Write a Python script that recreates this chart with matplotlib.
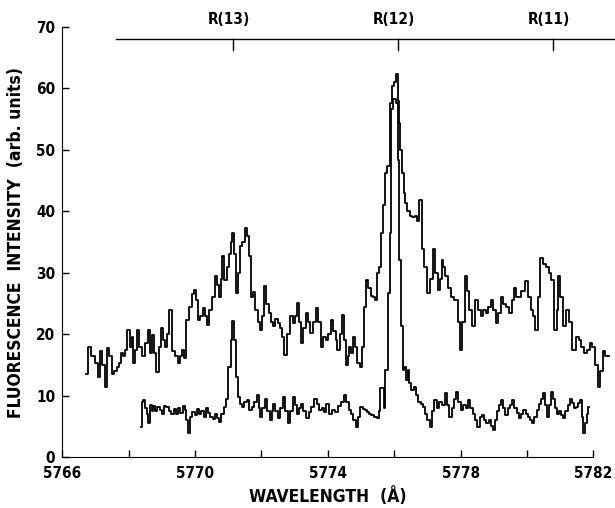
import matplotlib
matplotlib.use('Agg')
import matplotlib.pyplot as plt

plt.rcParams['font.family'] = ['DejaVu Sans']
plt.rcParams['font.weight'] = 'bold'
plt.rcParams['font.stretch'] = 'condensed'

# upper spectrum (wavelength in A, intensity)
upper_x = [5766.73, 5766.83, 5766.93, 5767.03, 5767.11, 5767.18, 5767.25, 5767.31, 5767.38, 5767.46,
           5767.53, 5767.60, 5767.68, 5767.74, 5767.80, 5767.87, 5767.92, 5768.00, 5768.07, 5768.12,
           5768.15, 5768.21, 5768.27, 5768.37, 5768.47, 5768.55, 5768.60, 5768.67, 5768.75, 5768.81,
           5768.87, 5768.94, 5769.00, 5769.07, 5769.13, 5769.20, 5769.26, 5769.33, 5769.45, 5769.51,
           5769.57, 5769.63, 5769.70, 5769.79, 5769.87, 5769.93, 5769.99, 5770.06, 5770.13, 5770.20,
           5770.26, 5770.33, 5770.39, 5770.47, 5770.55, 5770.63, 5770.69, 5770.75, 5770.80, 5770.85,
           5770.92, 5770.98, 5771.05, 5771.10, 5771.15, 5771.21, 5771.28, 5771.34, 5771.40, 5771.46,
           5771.53, 5771.59, 5771.65, 5771.71, 5771.79, 5771.85, 5771.92, 5771.99, 5772.05, 5772.11,
           5772.18, 5772.25, 5772.32, 5772.39, 5772.46, 5772.53, 5772.58, 5772.64, 5772.74, 5772.81,
           5772.89, 5772.99, 5773.05, 5773.10, 5773.16, 5773.23, 5773.30, 5773.38, 5773.44, 5773.50,
           5773.59, 5773.68, 5773.75, 5773.83, 5773.90, 5773.98, 5774.05, 5774.13, 5774.21, 5774.26,
           5774.32, 5774.40, 5774.47, 5774.52, 5774.57, 5774.62, 5774.67, 5774.72, 5774.77, 5774.84,
           5774.92, 5775.00, 5775.06, 5775.12, 5775.19, 5775.26, 5775.32, 5775.38, 5775.44, 5775.51,
           5775.59, 5775.64, 5775.69, 5775.74, 5775.83, 5775.89, 5775.96, 5776.02, 5776.08, 5776.12,
           5776.16, 5776.21, 5776.26, 5776.31, 5776.36, 5776.43, 5776.50, 5776.58, 5776.65, 5776.72,
           5776.80, 5776.87, 5776.95, 5777.05, 5777.12, 5777.20, 5777.27, 5777.34, 5777.40, 5777.45,
           5777.51, 5777.57, 5777.66, 5777.75, 5777.87, 5777.95, 5778.02, 5778.09, 5778.16, 5778.22,
           5778.29, 5778.39, 5778.49, 5778.56, 5778.64, 5778.72, 5778.80, 5778.87, 5778.94, 5779.02,
           5779.09, 5779.17, 5779.26, 5779.32, 5779.40, 5779.51, 5779.57, 5779.63, 5779.70, 5779.78,
           5779.88, 5779.98, 5780.06, 5780.15, 5780.22, 5780.28, 5780.35, 5780.43, 5780.52, 5780.62,
           5780.70, 5780.77, 5780.87, 5780.92, 5780.97, 5781.04, 5781.12, 5781.22, 5781.30, 5781.42,
           5781.52, 5781.58, 5781.66, 5781.76, 5781.85, 5781.93, 5782.01, 5782.09, 5782.16, 5782.24,
           5782.31, 5782.40, 5782.46]
upper_y = [13.6, 18.0, 16.4, 15.3, 13.1, 17.2, 15.0, 11.5, 17.7, 16.4,
           13.6, 14.0, 14.7, 15.3, 16.9, 16.4, 17.5, 20.7, 18.0, 19.6,
           15.3, 17.5, 20.7, 18.0, 16.4, 18.5, 20.7, 16.9, 19.8, 17.0,
           13.9, 18.0, 21.0, 19.0, 18.0, 20.0, 24.0, 17.2, 16.4, 15.3,
           16.5, 17.5, 16.1, 22.3, 24.5, 26.5, 27.2, 25.6, 22.3, 23.0,
           24.2, 23.0, 21.5, 24.0, 26.1, 29.4, 28.0, 26.0, 29.0, 32.7,
           28.8, 31.0, 33.0, 35.0, 36.5, 33.0, 26.7, 30.0, 34.3, 35.0,
           37.3, 36.0, 32.7, 26.1, 26.8, 24.0, 22.0, 20.7, 23.0, 27.8,
           25.0, 23.4, 22.0, 21.3, 22.5, 21.8, 21.0, 19.6, 16.6, 20.0,
           22.9, 21.8, 23.0, 25.1, 22.0, 18.5, 21.0, 23.4, 22.0, 20.2,
           22.0, 24.3, 22.0, 18.0, 19.5, 19.0, 20.0, 22.3, 20.5, 19.0,
           17.5, 20.0, 23.2, 19.0, 15.0, 16.5, 18.0, 17.0, 19.6, 18.0,
           15.3, 14.7, 18.0, 24.5, 28.9, 27.5, 26.3, 26.0, 25.6, 30.0,
           31.0, 36.5, 41.0, 46.3, 47.3, 57.7, 60.4, 61.0, 62.3, 58.0,
           54.4, 50.0, 46.3, 43.0, 41.4, 40.0, 39.3, 39.0, 39.2, 38.5,
           41.9, 33.8, 31.0, 26.7, 29.0, 33.8, 30.0, 27.2, 29.0, 32.1,
           31.0, 29.4, 27.5, 26.1, 25.6, 22.0, 17.5, 22.0, 29.4, 27.0,
           24.0, 21.3, 25.6, 24.0, 22.9, 24.0, 23.5, 24.5, 25.6, 24.0,
           21.8, 23.5, 26.1, 25.0, 24.5, 23.4, 25.5, 27.5, 26.0, 26.1,
           27.0, 28.6, 26.0, 24.0, 23.0, 20.7, 26.0, 32.4, 31.5, 31.0,
           30.0, 28.8, 20.7, 24.0, 29.4, 26.0, 21.3, 24.0, 22.0, 17.5,
           19.6, 19.0, 18.0, 16.9, 17.5, 18.5, 18.0, 15.0, 11.5, 14.0,
           17.2, 16.5, 16.4]

# lower spectrum
lower_x = [5768.37, 5768.42, 5768.47, 5768.52, 5768.57, 5768.62, 5768.68, 5768.72, 5768.77, 5768.84,
           5768.90, 5768.97, 5769.03, 5769.10, 5769.17, 5769.25, 5769.32, 5769.40, 5769.46, 5769.52,
           5769.60, 5769.67, 5769.72, 5769.77, 5769.81, 5769.88, 5769.96, 5770.03, 5770.10, 5770.16,
           5770.23, 5770.29, 5770.35, 5770.42, 5770.50, 5770.57, 5770.63, 5770.69, 5770.75, 5770.82,
           5770.90, 5770.97, 5771.05, 5771.10, 5771.15, 5771.22, 5771.27, 5771.32, 5771.38, 5771.45,
           5771.52, 5771.60, 5771.68, 5771.75, 5771.82, 5771.89, 5771.94, 5771.99, 5772.06, 5772.14,
           5772.21, 5772.29, 5772.34, 5772.39, 5772.46, 5772.54, 5772.61, 5772.69, 5772.76, 5772.84,
           5772.91, 5772.99, 5773.05, 5773.11, 5773.16, 5773.21, 5773.29, 5773.39, 5773.46, 5773.54,
           5773.64, 5773.71, 5773.79, 5773.86, 5773.93, 5773.99, 5774.09, 5774.18, 5774.27, 5774.35,
           5774.44, 5774.52, 5774.60, 5774.67, 5774.74, 5774.80, 5774.87, 5774.94, 5775.02, 5775.08,
           5775.15, 5775.21, 5775.27, 5775.35, 5775.43, 5775.51, 5775.56, 5775.61, 5775.66, 5775.71,
           5775.76, 5775.84, 5775.88, 5775.94, 5776.00, 5776.08, 5776.13, 5776.18, 5776.24, 5776.28,
           5776.33, 5776.38, 5776.43, 5776.49, 5776.55, 5776.62, 5776.70, 5776.76, 5776.83, 5776.90,
           5776.97, 5777.03, 5777.10, 5777.17, 5777.25, 5777.32, 5777.40, 5777.48, 5777.55, 5777.62,
           5777.70, 5777.76, 5777.83, 5777.90, 5777.97, 5778.05, 5778.12, 5778.19, 5778.25, 5778.32,
           5778.40, 5778.47, 5778.54, 5778.62, 5778.68, 5778.74, 5778.81, 5778.87, 5778.93, 5778.99,
           5779.06, 5779.13, 5779.18, 5779.23, 5779.30, 5779.38, 5779.45, 5779.52, 5779.58, 5779.65,
           5779.72, 5779.78, 5779.85, 5779.93, 5779.99, 5780.06, 5780.12, 5780.18, 5780.25, 5780.32,
           5780.38, 5780.45, 5780.52, 5780.57, 5780.62, 5780.68, 5780.75, 5780.80, 5780.86, 5780.92,
           5780.99, 5781.05, 5781.12, 5781.19, 5781.25, 5781.32, 5781.38, 5781.45, 5781.52, 5781.57,
           5781.62, 5781.67, 5781.71, 5781.77, 5781.82, 5781.86]
lower_y = [4.9, 9.0, 9.3, 8.0, 7.0, 5.5, 8.5, 7.5, 8.4, 7.5,
           8.2, 7.7, 7.0, 8.4, 8.2, 7.5, 7.1, 7.8, 7.0, 8.0,
           7.2, 8.4, 7.7, 6.0, 3.9, 6.5, 7.3, 6.8, 7.8, 7.1,
           7.5, 6.6, 8.0, 7.2, 6.6, 6.2, 7.0, 6.3, 5.8, 7.0,
           8.2, 9.5, 14.7, 19.0, 22.1, 19.0, 13.0, 9.8, 8.6, 8.2,
           9.0, 9.3, 7.7, 8.2, 9.0, 10.1, 8.0, 6.6, 8.0, 9.5,
           7.5, 6.0, 7.5, 8.7, 7.5, 6.3, 8.0, 9.8, 7.5, 5.5,
           7.5, 9.8, 8.5, 7.1, 8.0, 8.7, 7.5, 6.3, 7.4, 8.2,
           9.5, 8.6, 7.6, 8.0, 7.4, 8.7, 7.1, 7.7, 7.3, 8.4,
           9.0, 10.1, 9.0, 7.6, 7.0, 6.0, 4.9, 6.5, 8.2, 7.8,
           7.6, 7.3, 7.1, 6.8, 6.5, 6.3, 7.5, 11.2, 11.2, 8.0,
           14.2, 26.7, 36.5, 56.6, 58.3, 57.7, 48.4, 32.1, 21.3, 14.2,
           14.7, 12.5, 14.2, 12.0, 10.9, 11.5, 10.1, 9.0, 8.6, 8.2,
           7.0, 6.0, 4.9, 7.5, 9.3, 8.0, 9.0, 8.5, 10.4, 8.5,
           6.6, 8.0, 9.5, 10.6, 9.0, 7.6, 8.5, 8.0, 9.3, 8.0,
           7.0, 6.0, 4.9, 6.5, 6.8, 6.0, 5.5, 6.0, 5.0, 4.4,
           6.0, 7.5, 8.5, 9.3, 8.0, 6.9, 8.0, 8.5, 9.3, 8.0,
           7.2, 6.3, 7.0, 7.6, 7.0, 6.5, 6.0, 5.5, 6.5, 7.6,
           8.7, 9.5, 10.4, 8.5, 6.6, 8.5, 10.6, 9.5, 8.0, 7.1,
           7.5, 6.8, 6.3, 7.5, 8.5, 9.5, 8.8, 8.0, 8.2, 8.8,
           9.3, 6.5, 3.9, 5.5, 7.0, 8.2]

# rotational line markers
r_labels = ['R(13)', 'R(12)', 'R(11)']
r_pos = [5771.15, 5776.1, 5780.78]

fig = plt.figure(figsize=(6.15, 5.08), dpi=100)
ax = fig.add_axes([0.101, 0.1, 0.864, 0.847])

ax.plot(upper_x, upper_y, color='black', lw=1.3, drawstyle='steps-mid', clip_on=False)
ax.plot(lower_x, lower_y, color='black', lw=1.3, drawstyle='steps-mid')

# line assignment bar at top
ax.plot([5767.62, 5782.8], [68, 68], color='black', lw=1.0, clip_on=False)
for lab, p in zip(r_labels, r_pos):
    ax.plot([p, p], [68, 66.2], color='black', lw=1.0, clip_on=False)
    ax.text(p - 0.12, 71.2, lab, ha='center', va='center', fontsize=11, fontweight='bold')

ax.set_xlim(5766, 5782)
ax.set_ylim(0, 70)
ax.set_xticks([5766, 5770, 5774, 5778, 5782])
ax.set_xticks([5768, 5772, 5776, 5780], minor=True)
ax.set_yticks(range(0, 71, 10))
ax.tick_params(axis='both', which='both', direction='in', length=5, width=1.0, labelsize=11)
ax.tick_params(axis='x', pad=6)
ax.tick_params(axis='y', pad=5)
for lbl in ax.get_xticklabels() + ax.get_yticklabels():
    lbl.set_fontweight('bold')

ax.spines['top'].set_visible(False)
ax.spines['right'].set_visible(False)

ax.set_xlabel('WAVELENGTH  (Å)', fontsize=12.5, fontweight='bold', labelpad=5)
ax.set_ylabel('FLUORESCENCE  INTENSITY  (arb. units)', fontsize=12.5, fontweight='bold', labelpad=8)

fig.savefig('out.png', dpi=100)
